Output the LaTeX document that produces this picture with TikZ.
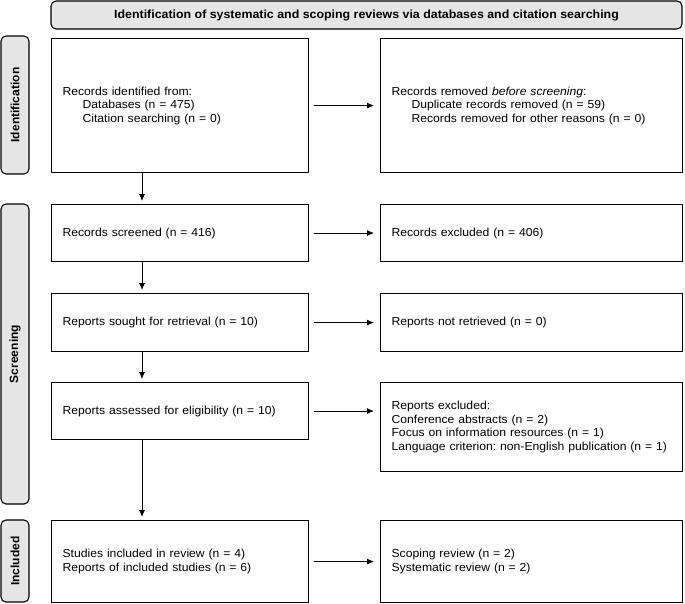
\documentclass[tikz,border=0pt]{standalone}
\usepackage{fontspec}
\setmainfont{Liberation Sans}[FakeStretch=1.05]
\newfontfamily\phasefont{Liberation Sans}
\usepackage{tikz}
\usetikzlibrary{arrows.meta}
\usetikzlibrary{positioning}
\frenchspacing
\tikzstyle{leftblock} = [rectangle, draw, line width=1.1pt, anchor=north west,
    text width=235pt, inner xsep=11pt, align=left, font=\fontsize{11.6}{13.5}\selectfont]
\tikzstyle{rightblock} = [leftblock, text width=280pt]
\tikzstyle{phase} = [rectangle, draw, line width=1.1pt, rounded corners=5pt, fill=gray!20,
    minimum height=28pt, rotate=90, font=\phasefont\bfseries\fontsize{12}{14}\selectfont]
\tikzstyle{heading} = [rectangle, draw, line width=1.1pt, rounded corners=5pt, fill=gray!20,
    minimum width=631pt, minimum height=28pt, font=\bfseries\fontsize{11.8}{14}\selectfont]
\tikzstyle{flow} = [line width=0.8pt, -{Latex[length=7pt,width=6pt]}]

\begin{document}
\begin{tikzpicture}[x=1pt,y=-1pt]
    \useasboundingbox (0,0) rectangle (685,603);

    \node[heading] (head) at (366.5,15) {Identification of systematic and scoping reviews via databases and citation searching};

    \node[phase, minimum width=138pt] (idphase) at (15,105) {Identification};
    \node[phase, minimum width=300pt] (scphase) at (15,354) {Screening};
    \node[phase, minimum width=82pt] (inphase) at (15,561) {Included};

    \node[leftblock, minimum height=134pt] (ident) at (51,38) {Records identified from:\\
        \hspace*{20pt}Databases (n = 475)\\
        \hspace*{20pt}Citation searching (n = 0)};
    \node[rightblock, minimum height=134pt] (removed) at (380,38) {Records removed \textit{before screening}:\\
        \hspace*{20pt}Duplicate records removed (n = 59)\\
        \hspace*{20pt}Records removed for other reasons (n = 0)};

    \node[leftblock, minimum height=57pt] (screened) at (51,204) {Records screened (n = 416)};
    \node[rightblock, minimum height=57pt] (excluded) at (380,204) {Records excluded (n = 406)};

    \node[leftblock, minimum height=58pt] (sought) at (51,293) {Reports sought for retrieval (n = 10)};
    \node[rightblock, minimum height=58pt] (notretr) at (380,293) {Reports not retrieved (n = 0)};

    \node[leftblock, minimum height=57pt] (assessed) at (51,382) {Reports assessed for eligibility (n = 10)};
    \node[rightblock, minimum height=89pt] (repexcl) at (380,382) {Reports excluded:\\
        Conference abstracts (n = 2)\\
        Focus on information resources (n = 1)\\
        Language criterion: non-English publication (n = 1)};

    \node[leftblock, minimum height=82pt] (studies) at (51,520) {Studies included in review (n = 4)\\
        Reports of included studies (n = 6)};
    \node[rightblock, minimum height=82pt] (types) at (380,520) {Scoping review (n = 2)\\
        Systematic review (n = 2)};

    \draw[flow, shorten <=5pt, shorten >=6pt] (ident.east) -- (ident.east -| removed.west);
    \draw[flow, shorten <=5pt, shorten >=6pt] (screened.east) -- (screened.east -| excluded.west);
    \draw[flow, shorten <=5pt, shorten >=6pt] (sought.east) -- (sought.east -| notretr.west);
    \draw[flow, shorten <=5pt, shorten >=6pt] (assessed.east) -- (assessed.east -| repexcl.west);
    \draw[flow, shorten <=5pt, shorten >=6pt] (studies.east) -- (studies.east -| types.west);

    \draw[flow, shorten >=3pt] ([xshift=91pt]ident.south west) -- ([xshift=91pt]screened.north west);
    \draw[flow, shorten >=3pt] ([xshift=91pt]screened.south west) -- ([xshift=91pt]sought.north west);
    \draw[flow, shorten >=3pt] ([xshift=91pt]sought.south west) -- ([xshift=91pt]assessed.north west);
    \draw[flow, shorten >=3pt] ([xshift=91pt]assessed.south west) -- ([xshift=91pt]studies.north west);
\end{tikzpicture}
\end{document}
